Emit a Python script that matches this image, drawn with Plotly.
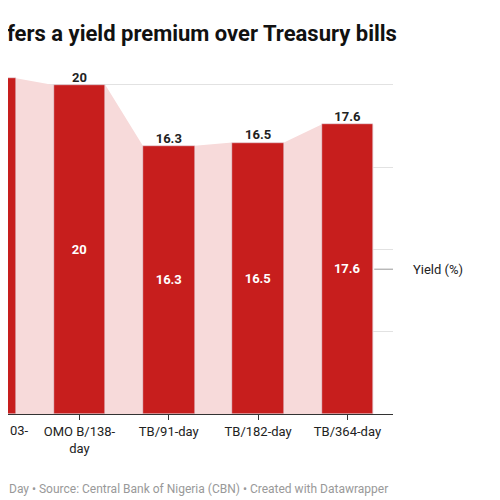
import plotly.graph_objects as go

categories = ["OMO B/103-day", "OMO B/138-day", "TB/91-day", "TB/182-day", "TB/364-day"]
tick_labels = ["03-", "OMO B/138-<br>day", "TB/91-day", "TB/182-day", "TB/364-day"]
yields = [20.4, 20, 16.3, 16.5, 17.6]

idx = list(range(len(categories)))
hw = 0.29
ax, ay = [], []
for i, v in zip(idx, yields):
    ax += [i - hw, i + hw]
    ay += [v, v]

red = "#c71e1d"
xr = [0.2, 4.51]
yr = [0, 22]
fig = go.Figure()
fig.add_trace(go.Scatter(x=ax, y=ay, mode="lines", line=dict(width=0),
                         fill="tozeroy", fillcolor="#f7dada", hoverinfo="skip"))
fig.add_trace(go.Bar(x=idx, y=yields, width=2 * hw, marker_color=red, xaxis="x2", yaxis="y2",
                     text=[f"{v:g}" for v in yields], textposition="inside",
                     insidetextanchor="middle",
                     textfont=dict(color="white", size=13, family="Roboto", weight="bold")))
fig.add_trace(go.Scatter(x=idx, y=yields, mode="text", text=[f"{v:g}" for v in yields],
                         xaxis="x2", yaxis="y2", textposition="top center",
                         textfont=dict(color="#222", size=13, family="Roboto", weight="bold")))

fig.update_layout(
    width=500, height=500, showlegend=False, plot_bgcolor="white", paper_bgcolor="white",
    margin=dict(l=0, r=115, t=44, b=94, pad=0), bargap=0,
    font=dict(family="Roboto", color="#333"),
    xaxis=dict(range=xr, tickmode="array", tickvals=idx[1:], ticktext=tick_labels[1:],
               ticks="outside", ticklen=5, tickcolor="#333", showline=True, linecolor="#333",
               showgrid=False, tickfont=dict(size=13, color="#222"), automargin=False),
    yaxis=dict(range=yr, dtick=5, showticklabels=False, gridcolor="#e2e2e2",
               zeroline=False, automargin=False),
    xaxis2=dict(range=xr, overlaying="x", visible=False, automargin=False),
    yaxis2=dict(range=yr, overlaying="y", visible=False, automargin=False),
    annotations=[
        dict(xref="paper", yref="paper", x=-0.008, y=1.0, yanchor="middle", xanchor="left",
             text="<b>fers a yield premium over Treasury bills</b>", showarrow=False,
             font=dict(size=22, color="#111"), yshift=19),
        dict(xref="paper", yref="paper", x=0, y=0, xanchor="left", yanchor="top", yshift=-7,
             text="03-", showarrow=False, font=dict(size=13, color="#222")),
        dict(xref="paper", yref="paper", x=-0.003, y=0, xanchor="left", yanchor="middle", yshift=-75,
             text="Day • Source: Central Bank of Nigeria (CBN) • Created with Datawrapper",
             showarrow=False, font=dict(size=12, color="#999")),
        dict(xref="paper", yref="y", x=1, y=8.8, xanchor="left", xshift=18,
             text="Yield (%)", showarrow=False, font=dict(size=13, color="#222")),
    ],
    shapes=[dict(type="line", xref="x", yref="y", x0=4.3, x1=4.65, y0=8.8, y1=8.8,
                 line=dict(color="#999", width=1))],
)
fig.write_html("out.html")
